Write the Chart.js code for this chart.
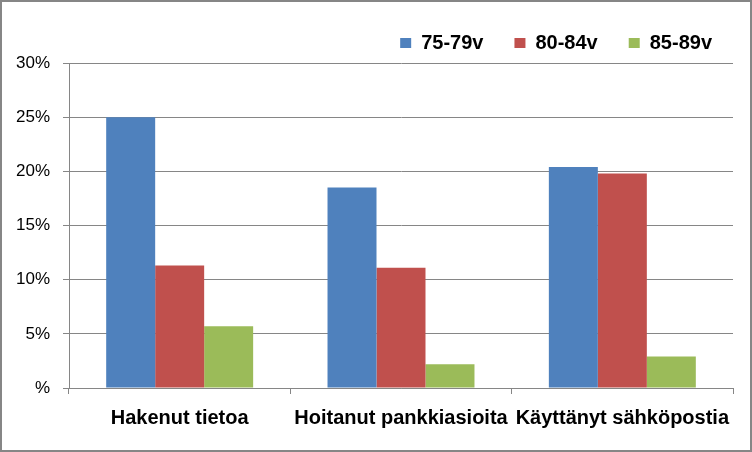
<!DOCTYPE html>
<html>
<head>
<meta charset="utf-8">
<script src="https://cdn.jsdelivr.net/npm/chart.js@4"></script>
<style>
  html, body { margin: 0; padding: 0; background: #fff; }
  #wrap { width: 752px; height: 452px; box-sizing: border-box; border: 2px solid #868686; background: #fff; }
  canvas { display: block; }
</style>
</head>
<body>
<div id="wrap"><canvas id="chart" width="748" height="448"></canvas></div>
<script>
// Chart data
const categories = ["Hakenut tietoa", "Hoitanut pankkiasioita", "Käyttänyt sähköpostia"];
const seriesNames = ["75-79v", "80-84v", "85-89v"];
const age75to79 = [25.0, 18.5, 20.4];
const age80to84 = [11.3, 11.1, 19.8];
const age85to89 = [5.7, 2.2, 2.9];
const yTickLabels = ["%", "5%", "10%", "15%", "20%", "25%", "30%"];

const colors = ["#4F81BD", "#C0504D", "#9BBB59"];
const axisGray = "#868686";

const ctx = document.getElementById("chart").getContext("2d");
new Chart(ctx, {
  type: "bar",
  data: {
    labels: categories,
    datasets: [age75to79, age80to84, age85to89].map((values, i) => ({
      label: seriesNames[i],
      data: values,
      backgroundColor: colors[i],
      borderWidth: 0,
      barPercentage: 1,
      categoryPercentage: 0.664
    }))
  },
  options: {
    responsive: false,
    animation: false,
    devicePixelRatio: 1,
    layout: { padding: { top: 0, right: 7, bottom: 0, left: 0 } },
    plugins: {
      tooltip: { enabled: false },
      legend: {
        position: "top",
        align: "end",
        maxHeight: 62,
        labels: {
          boxWidth: 11,
          boxHeight: 10,
          padding: 31,
          color: "#000",
          font: { family: "Liberation Sans", size: 20, weight: "bold" }
        }
      }
    },
    scales: {
      x: {
        grid: { display: true, drawOnChartArea: false, drawTicks: true, tickLength: 6, color: axisGray },
        border: { display: true, color: axisGray },
        ticks: {
          padding: 12,
          color: "#000",
          maxRotation: 0,
          autoSkip: false,
          font: { family: "Liberation Sans", size: 20, weight: "bold" }
        },
        afterFit: s => { s.height = 62; }
      },
      y: {
        min: 0,
        max: 30,
        grid: { color: axisGray, tickLength: 6 },
        border: { display: true, color: axisGray },
        ticks: {
          stepSize: 5,
          padding: 13,
          color: "#000",
          font: { family: "Liberation Sans", size: 17 },
          callback: (v, i) => yTickLabels[i]
        },
        afterFit: s => { s.width = 67; }
      },
      yRight: {
        type: "linear",
        position: "right",
        display: true,
        grid: { display: false },
        border: { display: false },
        ticks: { display: false },
        afterFit: s => { s.width = 10; }
      }
    }
  }
});
</script>
</body>
</html>
